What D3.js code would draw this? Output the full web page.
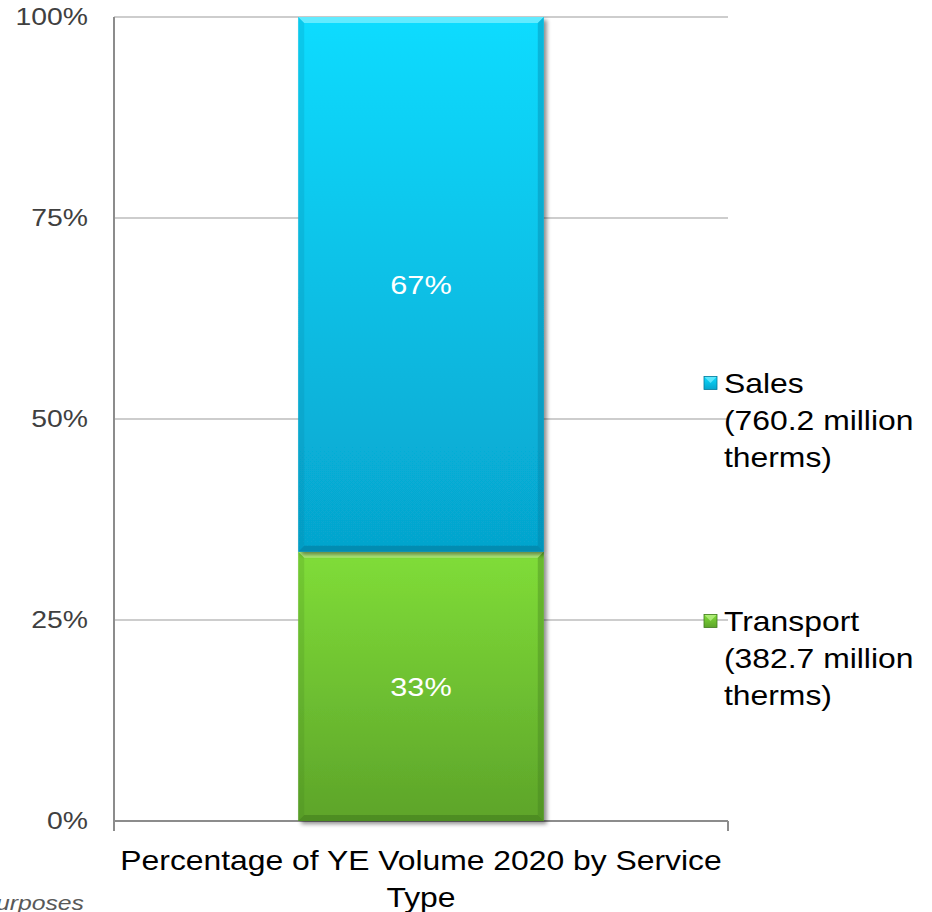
<!DOCTYPE html>
<html>
<head>
<meta charset="utf-8">
<script src="https://cdn.jsdelivr.net/npm/d3@7"></script>
<style>
  html, body { margin: 0; padding: 0; background: #fff; }
  svg { display: block; }
  text { font-family: "Liberation Sans", Arial, sans-serif; }
</style>
</head>
<body>
<div id="chart"></div>
<script>
// Volume by service type, 2020 (million therms)
const categories = ["Percentage of YE Volume 2020 by Service Type"];
const seriesNames = ["Transport", "Sales"];
const seriesValues = [382.7, 760.2];
const legendLabels = [
  ["Sales", "(760.2 million", "therms)"],
  ["Transport", "(382.7 million", "therms)"]
];
const yTicks = [0, 0.25, 0.5, 0.75, 1];
const footnote = "For illustrative purposes";

const W = 932, H = 912;
const margin = { left: 114, right: 204, top: 17, bottom: 91 };
const plotW = W - margin.left - margin.right;
const plotH = H - margin.top - margin.bottom;
// text is set slightly wide
const SX = 1.18;

const svg = d3.select("#chart").append("svg")
  .attr("width", W).attr("height", H);

const defs = svg.append("defs");

// Fill gradients + drop shadow
const palette = {
  Sales: { top: "#0bdcff", bottom: "#06a4cd", edgeHi: "#7ff0ff", edgeLo: "#04789a" },
  Transport: { top: "#80dd38", bottom: "#5da42a", edgeHi: "#c2f590", edgeLo: "#3f7a1c" }
};
Object.entries(palette).forEach(([k, c]) => {
  const g = defs.append("linearGradient").attr("id", "grad-" + k)
    .attr("x1", 0).attr("y1", 0).attr("x2", 0).attr("y2", 1);
  g.append("stop").attr("offset", "0%").attr("stop-color", c.top);
  g.append("stop").attr("offset", "100%").attr("stop-color", c.bottom);
});
const shadow = defs.append("filter").attr("id", "shadow")
  .attr("x", "-10%").attr("y", "-10%").attr("width", "130%").attr("height", "130%");
shadow.append("feGaussianBlur").attr("in", "SourceAlpha").attr("stdDeviation", 2.2).attr("result", "b");
shadow.append("feOffset").attr("in", "b").attr("dx", 2.5).attr("dy", 2.5).attr("result", "o");
shadow.append("feComponentTransfer").attr("in", "o").attr("result", "s")
  .append("feFuncA").attr("type", "linear").attr("slope", 0.45);
const m = shadow.append("feMerge");
m.append("feMergeNode").attr("in", "s");
m.append("feMergeNode").attr("in", "SourceGraphic");

// place a horizontally stretched text anchored at (x, y)
function wideText(parent, x, y, str) {
  return parent.append("text").attr("x", 0).attr("y", 0)
    .attr("transform", `translate(${x},${y}) scale(${SX},1)`).text(str);
}

const total = d3.sum(seriesValues);
const shares = seriesValues.map(v => v / total);

const x = d3.scaleBand().domain(categories)
  .range([margin.left, margin.left + plotW])
  .paddingInner(0.6).paddingOuter(0.3);
const y = d3.scaleLinear().domain([0, 1]).range([margin.top + plotH, margin.top]);

// Gridlines
svg.append("g").selectAll("line").data(yTicks.filter(t => t > 0)).join("line")
  .attr("x1", margin.left).attr("x2", margin.left + plotW)
  .attr("y1", d => y(d)).attr("y2", d => y(d))
  .attr("stroke", "#bdbdbd").attr("stroke-width", 1.5);

// Y axis
const yAxis = svg.append("g").attr("transform", `translate(${margin.left},0)`)
  .call(d3.axisLeft(y).tickValues(yTicks).tickFormat(d3.format(".0%")).tickSize(0).tickPadding(26));
yAxis.select(".domain").attr("stroke", "#8c8c8c").attr("stroke-width", 2)
  .attr("d", `M0,${y(1)}V${y(0) + 10}`);
yAxis.selectAll("text").attr("font-size", 24).attr("fill", "#404040")
  .attr("font-family", "Liberation Sans, Arial, sans-serif")
  .attr("x", -26 / SX).attr("transform", `scale(${SX},1)`);

// X axis baseline with end tick
const xAxis = svg.append("g").attr("transform", `translate(0,${y(0)})`);
xAxis.append("line").attr("x1", margin.left).attr("x2", margin.left + plotW)
  .attr("stroke", "#8c8c8c").attr("stroke-width", 2);
xAxis.append("line").attr("x1", margin.left + plotW).attr("x2", margin.left + plotW)
  .attr("y1", 0).attr("y2", 10).attr("stroke", "#8c8c8c").attr("stroke-width", 2);

// Stacked segments
let acc = 0;
const stacked = seriesNames.map((name, i) => {
  const d = { name, value: seriesValues[i], share: shares[i], y0: acc, y1: acc + shares[i] };
  acc += shares[i];
  return d;
});

const bx = x(categories[0]), bw = x.bandwidth();
const segs = svg.append("g").selectAll("g").data(stacked).join("g");
segs.each(function (d) {
  const g = d3.select(this);
  const c = palette[d.name];
  const top = y(d.y1), bot = y(d.y0), h = bot - top;
  g.append("rect").attr("x", bx).attr("y", top).attr("width", bw).attr("height", h)
    .attr("fill", `url(#grad-${d.name})`).attr("filter", "url(#shadow)");
  const e = 6;
  // bevel: top highlight
  g.append("path").attr("d", `M${bx},${top}H${bx + bw}L${bx + bw - e},${top + e}H${bx + e}Z`)
    .attr("fill", c.edgeHi).attr("opacity", 0.75);
  // bevel: sides
  g.append("path").attr("d", `M${bx},${top}L${bx + e},${top + e}V${bot - e}L${bx},${bot}Z`)
    .attr("fill", c.edgeLo).attr("opacity", 0.18);
  g.append("path").attr("d", `M${bx + bw},${top}L${bx + bw - e},${top + e}V${bot - e}L${bx + bw},${bot}Z`)
    .attr("fill", c.edgeLo).attr("opacity", 0.35);
  // bevel: bottom shade
  g.append("path").attr("d", `M${bx},${bot}H${bx + bw}L${bx + bw - e},${bot - e}H${bx + e}Z`)
    .attr("fill", c.edgeLo).attr("opacity", 0.55);
  wideText(g, bx + bw / 2, (top + bot) / 2, d3.format(".0%")(d.share))
    .attr("text-anchor", "middle").attr("dominant-baseline", "central")
    .attr("font-size", 26).attr("fill", "#ffffff");
});

// Category axis title (two lines)
const words = categories[0].split(" ");
const line1 = words.slice(0, -1).join(" "), line2 = words.slice(-1)[0];
const cx = bx + bw / 2;
wideText(svg, cx, 870, line1).attr("text-anchor", "middle")
  .attr("font-size", 27).attr("fill", "#000");
wideText(svg, cx, 907, line2).attr("text-anchor", "middle")
  .attr("font-size", 27).attr("fill", "#000");

// Legend
const legendY = [383, 621];
const legendKeys = ["Sales", "Transport"];
legendKeys.forEach((k, i) => {
  const c = palette[k];
  const gy = legendY[i];
  const g = svg.append("g");
  const s = 13, lx = 704, ly = gy - s / 2;
  g.append("rect").attr("x", lx).attr("y", ly).attr("width", s).attr("height", s)
    .attr("fill", `url(#grad-${k})`);
  g.append("path").attr("d", `M${lx},${ly}H${lx + s}L${lx + s / 2},${ly + s / 2}Z`)
    .attr("fill", c.edgeHi).attr("opacity", 0.7);
  g.append("rect").attr("x", lx).attr("y", ly).attr("width", s).attr("height", s)
    .attr("fill", "none").attr("stroke", c.edgeLo).attr("stroke-width", 0.8);
  legendLabels[i].forEach((t, j) => {
    wideText(g, 724, gy + j * 37, t).attr("dominant-baseline", "central")
      .attr("font-size", 27).attr("fill", "#000");
  });
});

// Footnote (runs off the left edge)
wideText(svg, 84, 910, footnote).attr("text-anchor", "end")
  .attr("font-size", 21).attr("font-style", "italic").attr("fill", "#595959");
</script>
</body>
</html>
